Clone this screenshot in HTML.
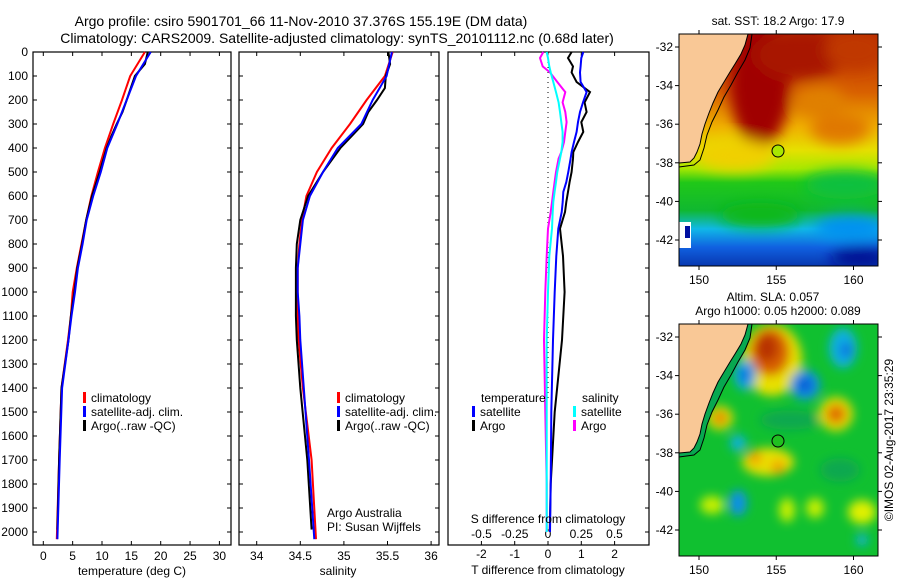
<!DOCTYPE html>
<html><head><meta charset="utf-8"><style>
html,body{margin:0;padding:0;background:#fff;}
svg{display:block;font-family:"Liberation Sans",sans-serif;}
text{font-size:12px;fill:#000;}
</style></head><body>
<svg id="fig" width="900" height="580" viewBox="0 0 900 580" xmlns="http://www.w3.org/2000/svg">
<defs>
<filter id="blur" x="-20%" y="-20%" width="140%" height="140%"><feGaussianBlur stdDeviation="7"/></filter>
<filter id="blur2" x="-50%" y="-50%" width="200%" height="200%"><feGaussianBlur stdDeviation="5"/></filter>
<clipPath id="c1"><rect x="679" y="34" width="199" height="232"/></clipPath>
<clipPath id="c2"><rect x="679" y="324" width="199" height="232"/></clipPath>
<linearGradient id="sstg" x1="0" y1="0" x2="0" y2="1">
<stop offset="0" stop-color="#b82800"/><stop offset="0.25" stop-color="#d86000"/>
<stop offset="0.4" stop-color="#f0b000"/><stop offset="0.5" stop-color="#e6e000"/>
<stop offset="0.58" stop-color="#a8e800"/><stop offset="0.64" stop-color="#20c818"/>
<stop offset="0.76" stop-color="#10b830"/>
<stop offset="0.84" stop-color="#10b8e8"/><stop offset="0.92" stop-color="#1060e0"/>
<stop offset="1" stop-color="#0838b0"/></linearGradient>
</defs>
<text x="301" y="26" text-anchor="middle" style="font-size:14px">Argo profile: csiro 5901701_66 11-Nov-2010 37.376S 155.19E (DM data)</text>
<text x="337" y="43" text-anchor="middle" style="font-size:14px">Climatology: CARS2009. Satellite-adjusted climatology: synTS_20101112.nc (0.68d later)</text>
<g id="p1"></g>
<g id="p2"></g>
<g id="p3"></g>

<!-- SST map -->
<g>
<text x="778" y="25" text-anchor="middle">sat. SST: 18.2 Argo: 17.9</text>
<g clip-path="url(#c1)">
<rect x="679" y="34" width="199" height="232" fill="url(#sstg)"/>
<g filter="url(#blur)">
<ellipse cx="760" cy="85" rx="30" ry="62" fill="#a00000"/>
<ellipse cx="800" cy="55" rx="45" ry="25" fill="#a81800"/>
<ellipse cx="855" cy="50" rx="30" ry="20" fill="#c03800"/>
<ellipse cx="840" cy="128" rx="30" ry="16" fill="#e07800"/>
<ellipse cx="820" cy="100" rx="25" ry="14" fill="#e08000"/>
<ellipse cx="735" cy="155" rx="40" ry="16" fill="#f0d000"/>
<ellipse cx="845" cy="185" rx="40" ry="14" fill="#10c040"/>
<ellipse cx="850" cy="228" rx="35" ry="12" fill="#0090f0"/>
<ellipse cx="860" cy="258" rx="30" ry="10" fill="#000c90"/>
<ellipse cx="760" cy="215" rx="40" ry="12" fill="#10b818"/>
</g>
<polygon points="679,34 748,34 745,45 741,54 735,64 730,72 724,82 718,92 713,103 709,113 705,124 702,134 700,144 697,152 694,158 690,162 679,163" fill="#f9c896"/>
<polyline points="748,34 745,45 741,54 735,64 730,72 724,82 718,92 713,103 709,113 705,124 702,134 700,144 697,152 694,158 690,162 679,163" fill="none" stroke="#000" stroke-width="1"/>
<polyline points="752,34 750,48 745,60 738,72 731,85 724,97 718,110 712,122 707,135 704,148 700,160 694,165 679,167" fill="none" stroke="#000" stroke-width="1"/>
<rect x="679" y="222" width="12" height="26" fill="#fff"/>
<rect x="685" y="226" width="5" height="12" fill="#0010a0"/>
<circle cx="778" cy="151" r="6" fill="#a8e800" stroke="#000"/>
</g>
<rect x="679" y="34" width="199" height="232" fill="none" stroke="#000"/>
</g>

<!-- SLA map -->
<g>
<text x="773" y="301" text-anchor="middle">Altim. SLA: 0.057</text>
<text x="778" y="315" text-anchor="middle">Argo h1000: 0.05 h2000: 0.089</text>
<g clip-path="url(#c2)">
<rect x="679" y="324" width="199" height="232" fill="#10c030"/>
<g filter="url(#blur2)">
<ellipse cx="772" cy="360" rx="30" ry="36" fill="#e8e000"/>
<ellipse cx="770" cy="352" rx="20" ry="24" fill="#d86000"/>
<ellipse cx="767" cy="348" rx="11" ry="14" fill="#b83000"/>
<ellipse cx="745" cy="375" rx="11" ry="15" fill="#10a8e8"/>
<ellipse cx="745" cy="375" rx="5" ry="7" fill="#1060d8"/>
<ellipse cx="805" cy="385" rx="15" ry="15" fill="#1090e8"/>
<ellipse cx="805" cy="385" rx="7" ry="7" fill="#1050d0"/>
<ellipse cx="843" cy="348" rx="14" ry="20" fill="#10b0e0"/>
<ellipse cx="846" cy="350" rx="6" ry="8" fill="#1070e0"/>
<ellipse cx="836" cy="414" rx="17" ry="17" fill="#e8e000"/>
<ellipse cx="836" cy="414" rx="10" ry="10" fill="#e07000"/>
<ellipse cx="720" cy="418" rx="13" ry="12" fill="#e8e000"/>
<ellipse cx="720" cy="418" rx="7" ry="7" fill="#e08000"/>
<ellipse cx="738" cy="443" rx="8" ry="8" fill="#10b0e0"/>
<ellipse cx="768" cy="462" rx="26" ry="14" fill="#e8e000"/>
<ellipse cx="755" cy="458" rx="7" ry="7" fill="#f0a000"/>
<ellipse cx="778" cy="467" rx="7" ry="7" fill="#f0a000"/>
<ellipse cx="738" cy="503" rx="9" ry="13" fill="#1090e8"/>
<ellipse cx="712" cy="505" rx="12" ry="9" fill="#c8f000"/>
<ellipse cx="787" cy="510" rx="8" ry="12" fill="#c8f000"/>
<ellipse cx="815" cy="508" rx="9" ry="10" fill="#c8f000"/>
<ellipse cx="862" cy="512" rx="14" ry="12" fill="#e0f000"/>
<ellipse cx="862" cy="540" rx="6" ry="6" fill="#10b0e0"/>
<ellipse cx="840" cy="470" rx="20" ry="12" fill="#08a850"/>
<ellipse cx="790" cy="420" rx="30" ry="10" fill="#08a850"/>
</g>
<polygon points="752,324 750,338 745,350 738,362 731,375 724,387 718,400 712,412 707,425 704,438 700,450 694,455 679,457 679,324" fill="#08a850"/>
<polygon points="679,324 748,324 745,335 741,344 735,354 730,362 724,372 718,382 713,393 709,403 705,414 702,424 700,434 697,442 694,448 690,452 679,453" fill="#f9c896"/>
<polyline points="748,324 745,335 741,344 735,354 730,362 724,372 718,382 713,393 709,403 705,414 702,424 700,434 697,442 694,448 690,452 679,453" fill="none" stroke="#000"/>
<polyline points="752,324 750,338 745,350 738,362 731,375 724,387 718,400 712,412 707,425 704,438 700,450 694,455 679,457" fill="none" stroke="#000"/>
<circle cx="778" cy="441" r="6" fill="#20c020" stroke="#000"/>
</g>
<rect x="679" y="324" width="199" height="232" fill="none" stroke="#000"/>
</g>
<g id="maxes"></g>
<text transform="translate(893,440) rotate(-90)" text-anchor="middle">©IMOS 02-Aug-2017 23:35:29</text>
</svg>
<script>
// depth grid for climatology profiles
const climDepths = [0,100,200,300,400,500,600,700,800,900,1000,1100,1200,1400,1700,2030];
const tempClim = [17.3,14.8,13.4,11.9,10.5,9.3,8.2,7.3,6.5,5.7,5.0,4.7,4.2,3.1,2.7,2.3];
const tempSat = [18.3,15.8,14.2,12.6,10.9,9.8,8.5,7.4,6.7,5.9,5.4,4.8,4.3,3.2,2.8,2.4];
const salClim = [35.56,35.47,35.26,35.07,34.86,34.69,34.57,34.52,34.49,34.47,34.47,34.47,34.48,34.53,34.63,34.68];
const salSat = [35.55,35.49,35.33,35.2,34.93,34.76,34.61,34.53,34.5,34.47,34.47,34.49,34.5,34.54,34.6,34.66];
// Argo profile
const argoDepths = [0,50,100,150,200,250,300,350,400,500,600,700,800,900,1000,1100,1200,1400,1700,1990];
const tempArgo = [17.8,17.3,15.6,14.9,14.2,13.5,12.5,11.6,10.8,9.6,8.3,7.3,6.6,5.8,5.3,4.7,4.3,3.1,2.7,2.4];
const salArgo = [35.51,35.53,35.48,35.47,35.38,35.28,35.22,35.09,34.96,34.76,34.59,34.5,34.46,34.45,34.45,34.45,34.46,34.5,34.58,34.63];
// differences from climatology
const diffDepths = [0,25,60,85,125,167,210,250,292,333,375,417,444,500,542,583,625,667,736,850,1000,1200,1500,1800,2000];
const dTArgo = [0.71,0.6,0.75,0.71,0.86,1.26,1.1,1.16,1.0,1.06,0.9,0.76,0.75,0.71,0.65,0.6,0.55,0.51,0.36,0.45,0.5,0.42,0.2,0.08,0.05];
const dTSat = [1.06,1.0,0.98,0.96,0.98,1.16,1.05,0.96,0.9,0.86,0.78,0.71,0.68,0.61,0.55,0.46,0.44,0.41,0.31,0.25,0.2,0.15,0.1,0.08,0.06];
const dSArgo = [-0.035,-0.06,-0.04,0.015,0.07,0.13,0.11,0.13,0.14,0.13,0.12,0.1,0.08,0.06,0.05,0.04,0.03,0.02,0.0,-0.01,-0.02,-0.03,-0.02,-0.01,-0.01];
const dSSat = [-0.01,0.0,0.01,0.02,0.04,0.06,0.08,0.09,0.1,0.11,0.11,0.1,0.09,0.07,0.06,0.05,0.04,0.035,0.03,0.01,0.0,-0.01,-0.01,-0.01,-0.01];
// tick labels
const depthTicks = [0,100,200,300,400,500,600,700,800,900,1000,1100,1200,1300,1400,1500,1600,1700,1800,1900,2000];
const tempTicks = [0,5,10,15,20,25,30];
const salTicks = [34,34.5,35,35.5,36];
const dTTicks = [-2,-1,0,1,2];
const dSTicks = [-0.5,-0.25,0,0.25,0.5];
const sSTLabels = ["-0.5","-0.25","0","0.25","0.5"];
const lonTicks = [150,155,160];
const latTicks = [-32,-34,-36,-38,-40,-42];

const NS = "http://www.w3.org/2000/svg";
const TOP = 52, BOT = 545;
const yD = d => TOP + d * 0.24;
const xT = t => 43.3 + t * 5.87;
const xS = s => 256.7 + (s - 34) * 87.2;
const xdT = t => 548 + t * 33.3;
const xdS = s => 548 + s * 133;
const xLon = l => 699 + (l - 150) * 15.45;
const yLat1 = l => 47 + (-32 - l) * 19.3;
const yLat2 = l => 337 + (-32 - l) * 19.3;

function mk(tag, attrs, parent) {
  const e = document.createElementNS(NS, tag);
  for (const k in attrs) e.setAttribute(k, attrs[k]);
  parent.appendChild(e);
  return e;
}
function txt(parent, x, y, s, anchor) {
  const t = mk("text", {x: x, y: y, "text-anchor": anchor || "start"}, parent);
  t.textContent = s;
  return t;
}
function line(parent, xs, ds, xf, color, w) {
  const pts = xs.map((v, i) => xf(v).toFixed(1) + "," + yD(ds[i]).toFixed(1)).join(" ");
  return mk("polyline", {points: pts, fill: "none", stroke: color, "stroke-width": w || 2}, parent);
}
function frame(g, x0, x1) {
  mk("rect", {x: x0, y: TOP, width: x1 - x0, height: BOT - TOP, fill: "none", stroke: "#000", "stroke-width": 1.2}, g);
}
function depthTicksOn(g, x0, x1, labels, leftTicks) {
  depthTicks.forEach(d => {
    const y = yD(d);
    if (leftTicks) mk("line", {x1: x0, x2: x0 + 4, y1: y, y2: y, stroke: "#000"}, g);
    mk("line", {x1: x1 - 4, x2: x1, y1: y, y2: y, stroke: "#000"}, g);
    if (labels) {
      mk("line", {x1: x0, x2: x0 + 4, y1: y, y2: y, stroke: "#000"}, g);
      const t = txt(g, x0 - 5, y + 4, String(d), "end");
      
      
    }
  });
}
function xTicks(g, ticks, xf, labels, ly) {
  ticks.forEach((v, i) => {
    const x = xf(v);
    mk("line", {x1: x, x2: x, y1: TOP, y2: TOP + 4, stroke: "#000"}, g);
    mk("line", {x1: x, x2: x, y1: BOT - 4, y2: BOT, stroke: "#000"}, g);
    if (labels) {
      const t = txt(g, x, ly, labels[i], "middle");
      
      
    }
  });
}
function legendRow(g, x, y, color, label) {
  const r = mk("rect", {x: x, y: y - 10, width: 3, height: 11, fill: color}, g);
  
  
  const t = txt(g, x + 8, y, label);
  
  
}

// Panel 1
const p1 = document.getElementById("p1");
frame(p1, 33, 231);
depthTicksOn(p1, 33, 231, true, true);
xTicks(p1, tempTicks, xT, tempTicks.map(String), 560);
let l;
l = line(p1, tempClim, climDepths, xT, "#f00");


l = line(p1, tempArgo, argoDepths, xT, "#000");


l = line(p1, tempSat, climDepths, xT, "#00f");


legendRow(p1, 83, 402, "#f00", "climatology");
legendRow(p1, 83, 416, "#00f", "satellite-adj. clim.");
legendRow(p1, 83, 430, "#000", "Argo(..raw -QC)");
let tt = txt(p1, 132, 575, "temperature (deg C)", "middle");



// Panel 2
const p2 = document.getElementById("p2");
frame(p2, 239, 439);
depthTicksOn(p2, 239, 439, false, true);
xTicks(p2, salTicks, xS, salTicks.map(String), 560);
l = line(p2, salClim, climDepths, xS, "#f00");


l = line(p2, salArgo, argoDepths, xS, "#000");


l = line(p2, salSat, climDepths, xS, "#00f");


legendRow(p2, 337, 402, "#f00", "climatology");
legendRow(p2, 337, 416, "#00f", "satellite-adj. clim.");
legendRow(p2, 337, 430, "#000", "Argo(..raw -QC)");
tt = txt(p2, 327, 517, "Argo Australia");


tt = txt(p2, 327, 531, "PI: Susan Wijffels");


tt = txt(p2, 338, 575, "salinity", "middle");



// Panel 3
const p3 = document.getElementById("p3");
frame(p3, 448, 649);
depthTicksOn(p3, 448, 649, false, false);
xTicks(p3, dTTicks, xdT, dTTicks.map(String), 558);
mk("line", {x1: 548, x2: 548, y1: TOP, y2: 400, stroke: "#000", "stroke-dasharray": "1,4"}, p3);
dSTicks.forEach((v, i) => {
  const t = txt(p3, xdS(v), 538, sSTLabels[i], "middle");
  
  
});
l = line(p3, dSArgo, diffDepths, xdS, "#f0f");


l = line(p3, dSSat, diffDepths, xdS, "#0ff");


l = line(p3, dTArgo, diffDepths, xdT, "#000");


l = line(p3, dTSat, diffDepths, xdT, "#00f");


tt = txt(p3, 481, 402, "temperature");


tt = txt(p3, 582, 402, "salinity");


legendRow(p3, 472, 416, "#00f", "satellite");
legendRow(p3, 472, 430, "#000", "Argo");
legendRow(p3, 573, 416, "#0ff", "satellite");
legendRow(p3, 573, 430, "#f0f", "Argo");
tt = txt(p3, 548, 523, "S difference from climatology", "middle");


tt = txt(p3, 548, 574, "T difference from climatology", "middle");



// Map axes
const ma = document.getElementById("maxes");
[[34, 266, yLat1], [324, 556, yLat2]].forEach(([y0, y1, yf]) => {
  lonTicks.forEach(v => {
    const x = xLon(v);
    mk("line", {x1: x, x2: x, y1: y0 - 4, y2: y0, stroke: "#000"}, ma);
    mk("line", {x1: x, x2: x, y1: y1, y2: y1 + 4, stroke: "#000"}, ma);
    const t = txt(ma, x, y1 + 18, String(v), "middle");
    
    
  });
  latTicks.forEach(v => {
    const y = yf(v);
    mk("line", {x1: 675, x2: 679, y1: y, y2: y, stroke: "#000"}, ma);
    mk("line", {x1: 878, x2: 882, y1: y, y2: y, stroke: "#000"}, ma);
    const t = txt(ma, 673, y + 4, String(v), "end");
    
    
  });
});
</script>
</body></html>
